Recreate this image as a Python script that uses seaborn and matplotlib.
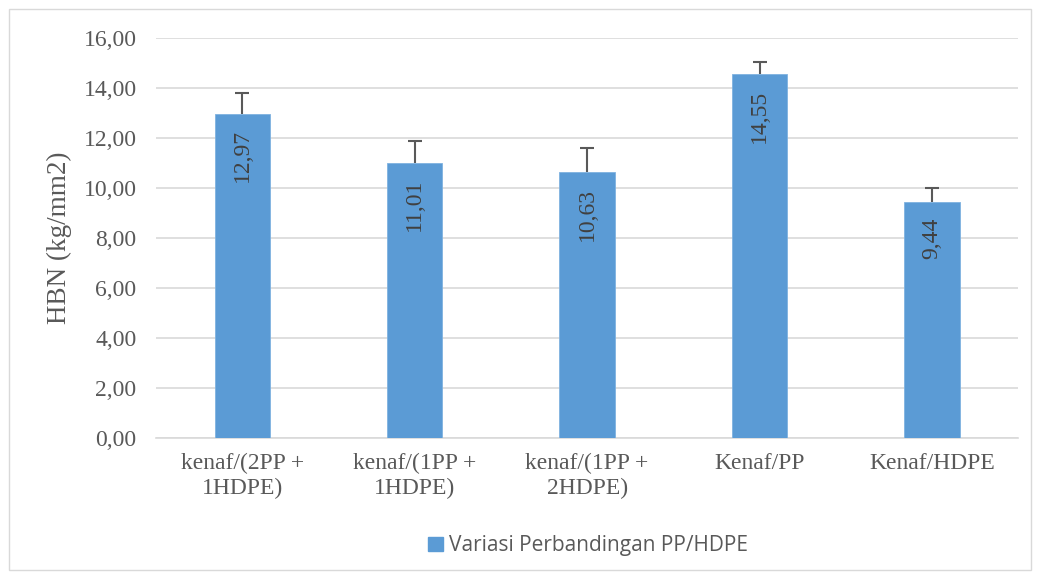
import matplotlib
matplotlib.use("Agg")
import matplotlib.pyplot as plt
import seaborn as sns
import pandas as pd
import numpy as np
from matplotlib.patches import Rectangle, Patch

categories = ["kenaf/(2PP +\n1HDPE)", "kenaf/(1PP +\n1HDPE)", "kenaf/(1PP +\n2HDPE)", "Kenaf/PP", "Kenaf/HDPE"]
values = [12.97, 11.01, 10.63, 14.55, 9.44]
errors = [0.82, 0.88, 0.97, 0.50, 0.55]
series_name = "Variasi Perbandingan PP/HDPE"
yticks = [0, 2, 4, 6, 8, 10, 12, 14, 16]

df = pd.DataFrame({"cat": categories, "val": values})

sns.set_theme(style="white")
plt.rcParams['font.family'] = ['Liberation Serif', 'DejaVu Serif']

fig = plt.figure(figsize=(10.4, 5.79), dpi=100)
ax = fig.add_axes([0.15, 0.2435, 0.829, 0.6905])

bar_color = "#5B9BD5"
sns.barplot(data=df, x="cat", y="val", color=bar_color, width=0.32,
            errorbar=None, ax=ax, saturation=1, edgecolor="#7FB2E0", linewidth=0.6, zorder=3)

x = np.arange(len(categories))
eb = ax.errorbar(x, values, yerr=[np.zeros(len(errors)), errors], fmt="none",
                 ecolor="#595959", elinewidth=1.5, capsize=5, capthick=1.5, zorder=4)
# hide the lower caps (plus-only error bars)
if len(eb[1]) == 2:
    eb[1][0].set_visible(False)

for xi, v in zip(x, values):
    ax.annotate(f"{v:.2f}".replace(".", ","), xy=(xi, v), xytext=(0, -11),
                textcoords="offset points", ha="center", va="top", rotation=90,
                fontsize=17, color="#404040", zorder=5)

ax.set_ylim(0, 16)
ax.set_xlim(-0.5, len(categories) - 0.5)
ax.set_yticks(yticks)
ax.set_yticklabels([f"{t:.2f}".replace(".", ",") for t in yticks], fontsize=17, color="#595959")
ax.tick_params(axis="y", length=0, pad=14)
ax.tick_params(axis="x", length=0, pad=11, labelsize=17, labelcolor="#595959")
ax.yaxis.grid(True, color="#D9D9D9", linewidth=1.2, zorder=0)
ax.set_axisbelow(True)
for s in ["top", "right", "left"]:
    ax.spines[s].set_visible(False)
ax.spines["bottom"].set_color("#D9D9D9")
ax.spines["bottom"].set_linewidth(1.2)
ax.set_xlabel("")
ax.set_ylabel("HBN (kg/mm2)", fontsize=19.5, color="#595959", labelpad=8)

handle = Patch(facecolor=bar_color, edgecolor=bar_color)
leg = fig.legend([handle], [series_name], loc="center", bbox_to_anchor=(588 / 1040, 0.057),
                 frameon=False, handlelength=0.7, handleheight=0.7, handletextpad=0.3,
                 borderpad=0, prop={"family": ["Open Sans", "DejaVu Sans"], "size": 15})
for t in leg.get_texts():
    t.set_color("#595959")

fig.patches.append(Rectangle((9 / 1040, 9 / 579), 1022 / 1040, 561 / 579, transform=fig.transFigure,
                             fill=False, edgecolor="#D9D9D9", linewidth=1.0))

fig.savefig("out.png", dpi=100)
